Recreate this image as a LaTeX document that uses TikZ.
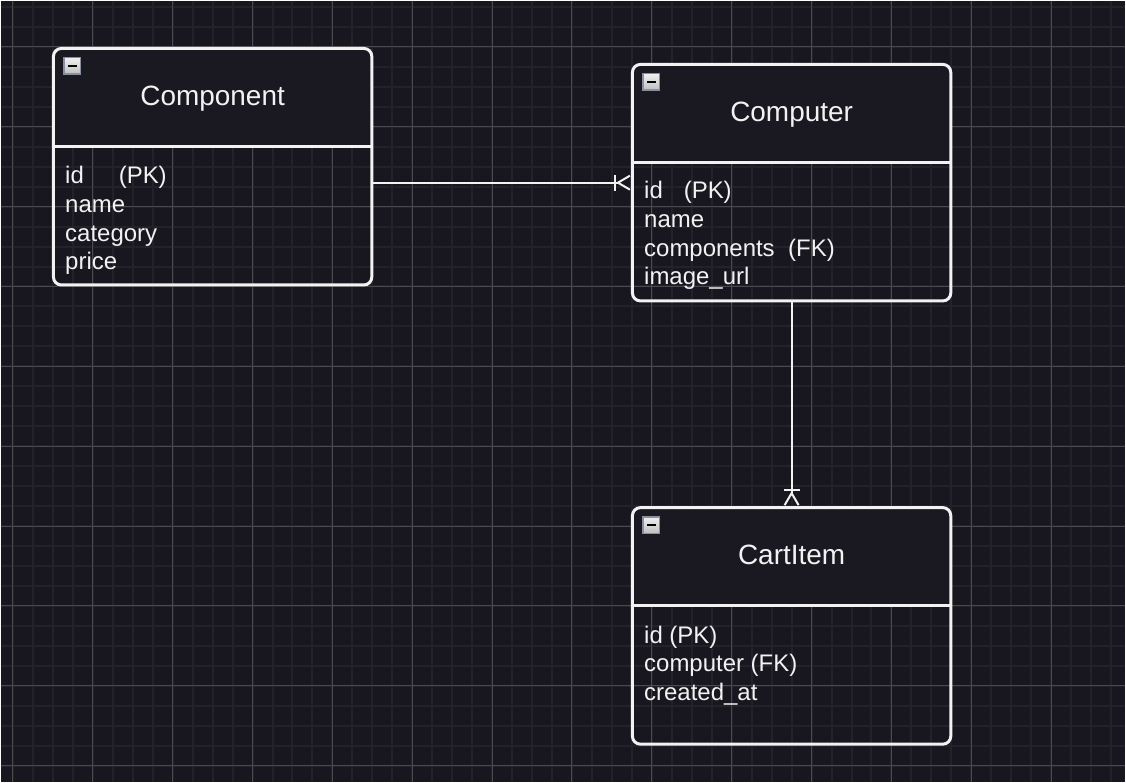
\documentclass[tikz,border=0pt]{standalone}
\usepackage{fontspec}
\setmainfont{Liberation Sans}
\usetikzlibrary{arrows.meta, positioning, calc}
\definecolor{fondSombre}{RGB}{24, 22, 31}
\definecolor{grilleFine}{RGB}{35, 34, 41}
\definecolor{grilleForte}{RGB}{74, 74, 78}
\definecolor{enteteFond}{RGB}{26, 24, 33}
\definecolor{traitClair}{RGB}{242, 242, 242}
\definecolor{iconeBord}{RGB}{135, 143, 160}

\begin{document}
\begin{tikzpicture}[x=0.02cm, y=-0.02cm,
  entete/.style={rectangle, rounded corners=0.16cm, fill=enteteFond,
    minimum width=6.38cm, minimum height=1.95cm, text=traitClair,
    text height=0.95em, text depth=0pt,
    font=\fontsize{15.93}{19}\selectfont},
  ent/.style={rectangle, rounded corners=0.16cm, draw=traitClair,
    line width=0.06cm, minimum width=6.38cm, minimum height=4.74cm},
  sep/.style={draw=traitClair, line width=0.06cm},
  champs/.style={anchor=north west, inner sep=0pt, align=left,
    text=traitClair, font=\fontsize{13.66}{16.33}\selectfont},
  icone/.style={rectangle, draw=iconeBord, line width=0.03cm,
    top color=gray!12, bottom color=gray!50, minimum size=0.33cm,
    inner sep=0pt, anchor=north west,
    path picture={\draw[black, line width=0.05cm]
      ([xshift=0.08cm]path picture bounding box.west) --
      ([xshift=-0.08cm]path picture bounding box.east);}},
  rel/.style={draw=traitClair, line width=0.04cm,
    -{Bar[width=0.32cm, line width=0.04cm]
      Straight Barb[reversed, length=0.24cm, width=0.28cm, line width=0.04cm]}},
]
% fond et grille
\fill[fondSombre] (0,0) rectangle (1126,782);
\foreach \x in {12,32,...,1112}
  \draw[grilleFine, line width=0.04cm] (\x,0) -- (\x,782);
\foreach \y in {6,26,...,766}
  \draw[grilleFine, line width=0.04cm] (0,\y) -- (1126,\y);
\foreach \x in {12,92,...,1092}
  \draw[grilleForte, line width=0.02cm] (\x,0) -- (\x,782);
\foreach \y in {46,126,...,766}
  \draw[grilleForte, line width=0.02cm] (0,\y) -- (1126,\y);

% Component
\node[entete] (componenthead) at (212, 96.25) {Component};
\node[ent] (component) at (212, 166) {};
\draw[sep] (componenthead.south west) -- (componenthead.south east);
\node[icone] (componenticon) at (62.5, 56) {};
\node[champs] (componentfields) at (64, 165.5)
  {id\hspace{0.7cm}(PK)\\name\\category\\price};

% Computer
\node[entete] (computerhead) at (792, 112.25) {Computer};
\node[ent] (computer) at (792, 182) {};
\draw[sep] (computerhead.south west) -- (computerhead.south east);
\node[icone] (computericon) at (642.5, 72) {};
\node[champs] (computerfields) at (644, 180.5)
  {id\hspace{0.42cm}(PK)\\name\\components\hspace{0.27cm}(FK)\\image\_url};

% CartItem
\node[entete] (cartitemhead) at (792, 556.25) {CartItem};
\node[ent] (cartitem) at (792, 626) {};
\draw[sep] (cartitemhead.south west) -- (cartitemhead.south east);
\node[icone] (cartitemicon) at (642.5, 516) {};
\node[champs] (cartitemfields) at (644, 625.5)
  {id (PK)\\computer (FK)\\created\_at};

% relations
\draw[rel] (component.east |- computer.west) -- (computer.west);
\draw[rel] (computer.south) -- (cartitem.north);
\end{tikzpicture}
\end{document}
